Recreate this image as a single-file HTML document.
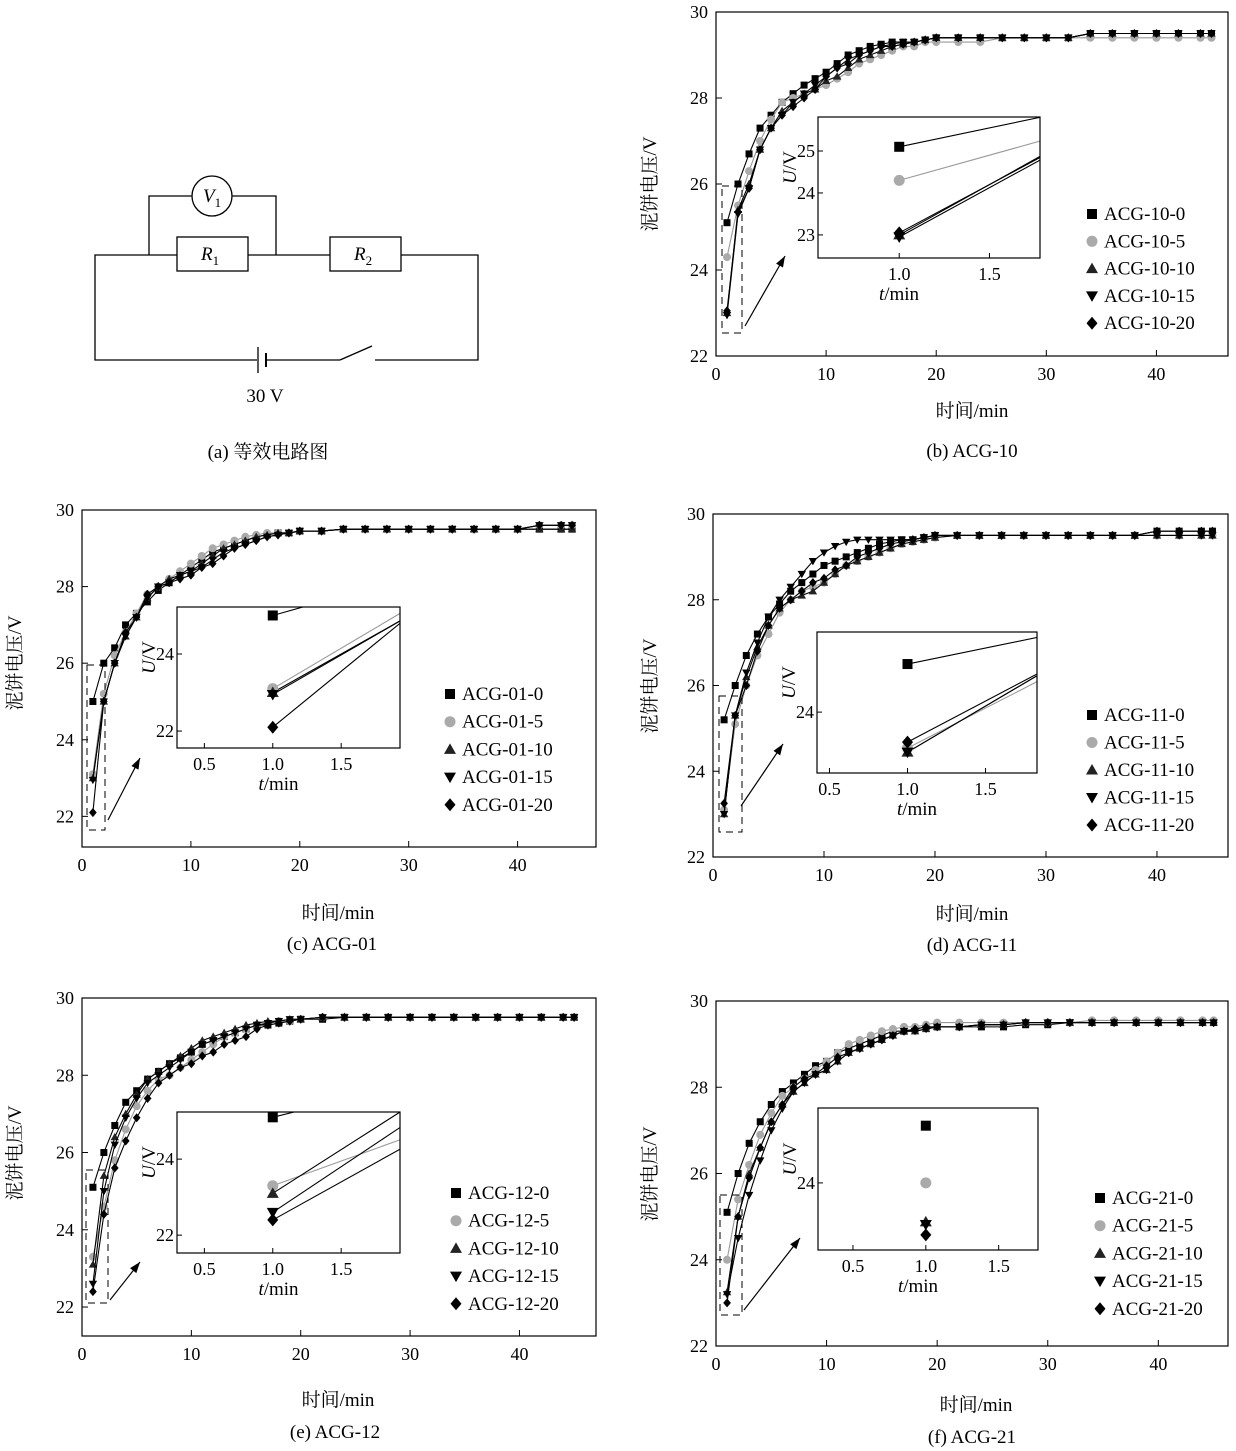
<!DOCTYPE html>
<html><head><meta charset="utf-8">
<style>
html,body{margin:0;padding:0;background:#fff;}
svg{display:block;font-family:"Liberation Serif","Noto Serif CJK SC","Noto Sans CJK SC",serif;}
</style></head>
<body>
<svg id="fig" width="1236" height="1451" viewBox="0 0 1236 1451" xmlns="http://www.w3.org/2000/svg">
<g fill="none" stroke="#000" stroke-width="1.3">
  <path d="M177 255 H95 V360 H257 M266 360 H340 M375 360 H478 V255 H401 M248 255 H330"/>
  <line x1="340" y1="360" x2="372" y2="346"/>
  <line x1="258" y1="347" x2="258" y2="373"/>
  <line x1="266" y1="353" x2="266" y2="367" stroke-width="2"/>
  <rect x="177" y="237" width="71" height="34"/>
  <rect x="330" y="237" width="71" height="34"/>
  <path d="M149 255 V196 H192 M232 196 H276 V255"/>
  <circle cx="212" cy="196" r="20"/>
</g>
<g font-size="19" fill="#000">
  <text x="203" y="202" font-style="italic">V<tspan font-style="normal" font-size="13" dy="5">1</tspan></text>
  <text x="201" y="260" font-style="italic">R<tspan font-style="normal" font-size="13" dy="5">1</tspan></text>
  <text x="354" y="260" font-style="italic">R<tspan font-style="normal" font-size="13" dy="5">2</tspan></text>
  <text x="265" y="402" text-anchor="middle">30 V</text>
  <text x="268" y="458" text-anchor="middle">(a)  等效电路图</text>
</g>
</svg>
<script>
const times=[1,2,3,4,5,6,7,8,9,10,11,12,13,14,15,16,17,18,19,20,22,24,26,28,30,32,34,36,38,40,42,44,45];
const b0=[25.1,26.0,26.7,27.3,27.6,27.9,28.1,28.3,28.45,28.6,28.8,29.0,29.1,29.2,29.25,29.3,29.3,29.3,29.35,29.4,29.4,29.4,29.4,29.4,29.4,29.4,29.5,29.5,29.5,29.5,29.5,29.5,29.5];
const b1=[24.3,25.5,26.3,27.0,27.5,27.9,28.0,28.1,28.2,28.3,28.45,28.6,28.8,28.9,29.0,29.1,29.2,29.2,29.3,29.3,29.3,29.3,29.4,29.4,29.4,29.4,29.4,29.4,29.4,29.4,29.4,29.4,29.4];
const b2=[23.0,25.4,26.0,26.8,27.3,27.7,27.9,28.1,28.2,28.4,28.5,28.7,28.9,29.0,29.1,29.2,29.25,29.3,29.35,29.4,29.4,29.4,29.4,29.4,29.4,29.4,29.5,29.5,29.5,29.5,29.5,29.5,29.5];
const b3=[22.95,25.3,25.9,26.8,27.3,27.6,27.9,28.1,28.3,28.5,28.7,28.9,29.0,29.1,29.2,29.25,29.3,29.3,29.35,29.4,29.4,29.4,29.4,29.4,29.4,29.4,29.5,29.5,29.5,29.5,29.5,29.5,29.5];
const b4=[23.05,25.35,25.9,26.8,27.3,27.6,27.8,28.0,28.2,28.5,28.7,28.8,29.0,29.1,29.2,29.2,29.25,29.3,29.35,29.4,29.4,29.4,29.4,29.4,29.4,29.4,29.5,29.5,29.5,29.5,29.5,29.5,29.5];
const c0=[25.0,26.0,26.4,27.0,27.3,27.6,27.9,28.1,28.3,28.5,28.7,28.9,29.0,29.1,29.2,29.3,29.35,29.4,29.4,29.45,29.45,29.5,29.5,29.5,29.5,29.5,29.5,29.5,29.5,29.5,29.5,29.5,29.5];
const c1=[23.1,25.2,26.2,26.8,27.3,27.8,28.0,28.2,28.4,28.6,28.8,29.0,29.1,29.2,29.3,29.35,29.4,29.4,29.4,29.45,29.45,29.5,29.5,29.5,29.5,29.5,29.5,29.5,29.5,29.5,29.6,29.6,29.6];
const c2=[23.0,25.0,26.0,26.7,27.2,27.7,28.0,28.2,28.3,28.4,28.6,28.8,29.0,29.1,29.2,29.3,29.35,29.4,29.4,29.45,29.45,29.5,29.5,29.5,29.5,29.5,29.5,29.5,29.5,29.5,29.5,29.5,29.5];
const c3=[22.95,25.0,26.0,26.7,27.2,27.7,28.0,28.1,28.3,28.4,28.5,28.7,28.9,29.0,29.1,29.2,29.3,29.35,29.4,29.45,29.45,29.5,29.5,29.5,29.5,29.5,29.5,29.5,29.5,29.5,29.6,29.6,29.6];
const c4=[22.1,25.0,26.0,26.8,27.2,27.8,28.0,28.1,28.2,28.3,28.5,28.6,28.8,29.0,29.1,29.2,29.3,29.35,29.4,29.45,29.45,29.5,29.5,29.5,29.5,29.5,29.5,29.5,29.5,29.5,29.6,29.6,29.6];
const d0=[25.2,26.0,26.7,27.2,27.6,27.9,28.2,28.4,28.6,28.8,28.9,29.0,29.1,29.2,29.3,29.35,29.4,29.4,29.45,29.5,29.5,29.5,29.5,29.5,29.5,29.5,29.5,29.5,29.5,29.6,29.6,29.6,29.6];
const d1=[23.1,25.1,26.0,26.7,27.2,27.7,28.0,28.2,28.3,28.4,28.6,28.8,28.9,29.0,29.1,29.2,29.3,29.35,29.4,29.45,29.5,29.5,29.5,29.5,29.5,29.5,29.5,29.5,29.5,29.5,29.5,29.5,29.5];
const d2=[23.0,25.3,26.2,26.9,27.4,27.8,28.0,28.1,28.2,28.4,28.6,28.8,28.9,29.0,29.1,29.2,29.3,29.35,29.4,29.45,29.5,29.5,29.5,29.5,29.5,29.5,29.5,29.5,29.5,29.5,29.5,29.5,29.5];
const d3=[23.0,25.3,26.3,27.0,27.6,28.0,28.3,28.6,28.9,29.1,29.25,29.35,29.4,29.4,29.4,29.4,29.4,29.4,29.45,29.5,29.5,29.5,29.5,29.5,29.5,29.5,29.5,29.5,29.5,29.5,29.5,29.5,29.5];
const d4=[23.25,25.3,26.0,26.8,27.4,27.8,28.0,28.2,28.4,28.5,28.7,28.8,29.0,29.1,29.2,29.3,29.35,29.4,29.45,29.5,29.5,29.5,29.5,29.5,29.5,29.5,29.5,29.5,29.5,29.6,29.6,29.6,29.6];
const e0=[25.1,26.0,26.7,27.3,27.6,27.9,28.1,28.3,28.45,28.6,28.8,28.9,29.0,29.1,29.2,29.3,29.3,29.35,29.4,29.45,29.45,29.5,29.5,29.5,29.5,29.5,29.5,29.5,29.5,29.5,29.5,29.5,29.5];
const e1=[23.3,24.6,25.8,26.6,27.2,27.6,27.9,28.0,28.2,28.4,28.6,28.8,29.0,29.1,29.2,29.3,29.35,29.4,29.4,29.45,29.5,29.5,29.5,29.5,29.5,29.5,29.5,29.5,29.5,29.5,29.5,29.5,29.5];
const e2=[23.1,25.4,26.4,27.0,27.5,27.9,28.1,28.3,28.5,28.7,28.9,29.0,29.1,29.2,29.3,29.35,29.4,29.4,29.45,29.45,29.5,29.5,29.5,29.5,29.5,29.5,29.5,29.5,29.5,29.5,29.5,29.5,29.5];
const e3=[22.6,25.0,26.2,26.9,27.4,27.8,28.0,28.2,28.4,28.6,28.8,28.9,29.0,29.1,29.2,29.3,29.35,29.4,29.45,29.45,29.5,29.5,29.5,29.5,29.5,29.5,29.5,29.5,29.5,29.5,29.5,29.5,29.5];
const e4=[22.4,24.4,25.6,26.3,26.9,27.4,27.8,28.0,28.2,28.3,28.5,28.6,28.8,28.9,29.0,29.2,29.3,29.35,29.4,29.45,29.5,29.5,29.5,29.5,29.5,29.5,29.5,29.5,29.5,29.5,29.5,29.5,29.5];
const f0=[25.1,26.0,26.7,27.2,27.6,27.9,28.1,28.3,28.5,28.6,28.8,28.9,29.0,29.1,29.2,29.3,29.3,29.35,29.4,29.4,29.4,29.4,29.4,29.45,29.45,29.5,29.5,29.5,29.5,29.5,29.5,29.5,29.5];
const f1=[24.0,25.4,26.2,26.9,27.4,27.8,28.0,28.2,28.4,28.6,28.8,29.0,29.1,29.2,29.3,29.35,29.4,29.4,29.45,29.5,29.5,29.5,29.5,29.5,29.5,29.5,29.55,29.55,29.55,29.55,29.55,29.55,29.55];
const f2=[23.25,25.0,26.0,26.6,27.2,27.6,27.9,28.1,28.3,28.4,28.6,28.8,28.9,29.0,29.1,29.2,29.3,29.3,29.35,29.4,29.4,29.45,29.45,29.5,29.5,29.5,29.5,29.5,29.5,29.5,29.5,29.5,29.5];
const f3=[23.2,24.5,25.5,26.3,27.0,27.5,27.9,28.1,28.3,28.4,28.6,28.8,28.9,29.0,29.1,29.2,29.3,29.3,29.35,29.4,29.4,29.45,29.45,29.5,29.5,29.5,29.5,29.5,29.5,29.5,29.5,29.5,29.5];
const f4=[23.0,25.0,25.9,26.6,27.2,27.6,28.0,28.2,28.3,28.5,28.7,28.8,28.9,29.0,29.1,29.2,29.3,29.35,29.4,29.4,29.4,29.45,29.45,29.5,29.5,29.5,29.5,29.5,29.5,29.5,29.5,29.5,29.5];
const xTicks=[0,10,20,30,40];
const yTicks=[22,24,26,28,30];
const seriesSuffix=["0","5","10","15","20"];
const markerShapes=["square","circle","tri-up","tri-down","diamond"];

const NS="http://www.w3.org/2000/svg";
const svg=document.getElementById('fig');
function mk(tag,attrs,parent){const e=document.createElementNS(NS,tag);for(const k in attrs)e.setAttribute(k,attrs[k]);(parent||svg).appendChild(e);return e;}

const panels=[
 {id:"b",name:"ACG-10",data:[b0,b1,b2,b3,b4],box:[716,12,1228,356],y:[22,30],x:[0,46.5],
  inset:{box:[818,117,1040,258],x:[0.55,1.78],y:[22.45,25.81],xt:[1.0,1.5],yt:[23,24,25],lines:true},
  leg:[1092,214,27.3],cap:[972,457],xt:[972,417],yt:[650,184],dash:[722,186,742,333],arrow:[745,326,785,256]},
 {id:"c",name:"ACG-01",data:[c0,c1,c2,c3,c4],box:[82,510,596,847],y:[21.2,30],x:[0,47.2],
  inset:{box:[177,607,400,748],x:[0.30,1.93],y:[21.56,25.22],xt:[0.5,1.0,1.5],yt:[22,24],lines:true},
  leg:[450,694,27.7],cap:[332,950],xt:[338,919],yt:[15,663],dash:[87,665,105,830],arrow:[108,820,140,758]},
 {id:"d",name:"ACG-11",data:[d0,d1,d2,d3,d4],box:[713,514,1228,857],y:[22,30],x:[0,46.4],
  inset:{box:[817,632,1037,773],x:[0.42,1.83],y:[22.48,26.0],xt:[0.5,1.0,1.5],yt:[24],lines:true},
  leg:[1092,715,27.5],cap:[972,951],xt:[972,920],yt:[650,686],dash:[719,696,742,832],arrow:[741,806,783,744]},
 {id:"e",name:"ACG-12",data:[e0,e1,e2,e3,e4],box:[82,998,596,1336],y:[21.25,30],x:[0,47],
  inset:{box:[177,1112,400,1253],x:[0.30,1.93],y:[21.53,25.24],xt:[0.5,1.0,1.5],yt:[22,24],lines:true},
  leg:[456,1193,27.7],cap:[335,1438],xt:[338,1406],yt:[15,1153],dash:[86,1170,108,1303],arrow:[110,1300,140,1262]},
 {id:"f",name:"ACG-21",data:[f0,f1,f2,f3,f4],box:[716,1001,1228,1346],y:[22,30],x:[0,46.3],
  inset:{box:[818,1108,1038,1250],x:[0.26,1.77],y:[22.71,25.44],xt:[0.5,1.0,1.5],yt:[24],lines:false},
  leg:[1100,1198,27.7],cap:[972,1443],xt:[976,1411],yt:[650,1174],dash:[720,1195,742,1315],arrow:[744,1310,800,1238]}
];

function marker(g,shape,cx,cy,s,color){
  let el;
  if(shape==="square") el=mk('rect',{x:cx-s/2,y:cy-s/2,width:s,height:s,fill:color},g);
  else if(shape==="circle") el=mk('circle',{cx:cx,cy:cy,r:s/2+0.5,fill:color},g);
  else if(shape==="tri-up") el=mk('polygon',{points:`${cx},${cy-s*0.6} ${cx-s*0.6},${cy+s*0.45} ${cx+s*0.6},${cy+s*0.45}`,fill:color},g);
  else if(shape==="tri-down") el=mk('polygon',{points:`${cx},${cy+s*0.6} ${cx-s*0.6},${cy-s*0.45} ${cx+s*0.6},${cy-s*0.45}`,fill:color},g);
  else el=mk('polygon',{points:`${cx},${cy-s*0.65} ${cx+s*0.55},${cy} ${cx},${cy+s*0.65} ${cx-s*0.55},${cy}`,fill:color},g);
  return el;
}
const colors=["#000","#aaa","#222","#000","#000"];
const lineColors=["#000","#999","#000","#000","#000"];

panels.forEach(p=>{
  const [x0,y0,x1,y1]=p.box;
  const sx=v=>x0+(v-p.x[0])/(p.x[1]-p.x[0])*(x1-x0);
  const sy=v=>y1-(v-p.y[0])/(p.y[1]-p.y[0])*(y1-y0);
  const g=mk('g',{});
  
  
  const frame=mk('rect',{x:x0,y:y0,width:x1-x0,height:y1-y0,fill:'none',stroke:'#000','stroke-width':1.2},g);
  
  
  xTicks.forEach(t=>{
    const tk=mk('line',{x1:sx(t),x2:sx(t),y1:y1,y2:y1-6,stroke:'#000','stroke-width':1},g);
    
    
    const tl=mk('text',{x:sx(t),y:y1+24,'text-anchor':'middle','font-size':18},g);
    
    
    tl.textContent=t;
  });
  yTicks.forEach(t=>{
    const tk=mk('line',{x1:x0,x2:x0+6,y1:sy(t),y2:sy(t),stroke:'#000','stroke-width':1},g);
    
    
    const tl=mk('text',{x:x0-8,y:sy(t)+6,'text-anchor':'end','font-size':18},g);
    
    
    tl.textContent=t;
  });
  const xt=mk('text',{x:p.xt[0],y:p.xt[1],'text-anchor':'middle','font-size':19},g);
  
  
  xt.textContent='时间/min';
  const yt=mk('text',{x:p.yt[0],y:p.yt[1],'text-anchor':'middle','font-size':19,transform:`rotate(-90 ${p.yt[0]} ${p.yt[1]})`,dy:6},g);
  
  
  yt.textContent='泥饼电压/V';
  const cap=mk('text',{x:p.cap[0],y:p.cap[1],'text-anchor':'middle','font-size':19},g);
  
  
  cap.textContent=`(${p.id}) ${p.name}`;
  p.data.forEach((arr,si)=>{
    const sg=mk('g',{},g);
    
    
    const pts=arr.map((v,i)=>sx(times[i])+','+sy(v)).join(' ');
    const pl=mk('polyline',{points:pts,fill:'none',stroke:lineColors[si],'stroke-width':1.1},sg);
    
    
    arr.forEach((v,i)=>{
      const m=marker(sg,markerShapes[si],sx(times[i]),sy(v),7,colors[si]);
      
      
    });
  });
  const [dx0,dy0,dx1,dy1]=p.dash;
  const db=mk('rect',{x:dx0,y:dy0,width:dx1-dx0,height:dy1-dy0,fill:'none',stroke:'#000','stroke-width':1,'stroke-dasharray':'7,5'},g);
  
  
  const [ax0,ay0,ax1,ay1]=p.arrow;
  const ar=mk('line',{x1:ax0,y1:ay0,x2:ax1,y2:ay1,stroke:'#000','stroke-width':1.2},g);
  
  
  const ang=Math.atan2(ay1-ay0,ax1-ax0),L=11,W=4;
  const hx=ax1-L*Math.cos(ang),hy=ay1-L*Math.sin(ang);
  const ah=mk('polygon',{points:`${ax1},${ay1} ${hx+W*Math.sin(ang)},${hy-W*Math.cos(ang)} ${hx-W*Math.sin(ang)},${hy+W*Math.cos(ang)}`,fill:'#000'},g);
  
  
  const I=p.inset;const [ix0,iy0,ix1,iy1]=I.box;
  const isx=v=>ix0+(v-I.x[0])/(I.x[1]-I.x[0])*(ix1-ix0);
  const isy=v=>iy1-(v-I.y[0])/(I.y[1]-I.y[0])*(iy1-iy0);
  const ig=mk('g',{},g);
  
  
  const ibg=mk('rect',{x:ix0,y:iy0,width:ix1-ix0,height:iy1-iy0,fill:'#fff',stroke:'none'},ig);
  
  
  const cp=mk('clipPath',{id:'clip'+p.id},ig);
  mk('rect',{x:ix0,y:iy0,width:ix1-ix0,height:iy1-iy0},cp);
  const cg=mk('g',{'clip-path':`url(#clip${p.id})`},ig);
  p.data.forEach((arr,si)=>{
    if(I.lines){
      const ln=mk('line',{x1:isx(times[0]),y1:isy(arr[0]),x2:isx(times[1]),y2:isy(arr[1]),stroke:lineColors[si],'stroke-width':1.1},cg);
      
      
    }
  });
  p.data.forEach((arr,si)=>{
    const m=marker(cg,markerShapes[si],isx(times[0]),isy(arr[0]),10,colors[si]);
    
    
  });
  const ifr=mk('rect',{x:ix0,y:iy0,width:ix1-ix0,height:iy1-iy0,fill:'none',stroke:'#000','stroke-width':1.2},ig);
  
  
  I.xt.forEach(t=>{
    const tk=mk('line',{x1:isx(t),x2:isx(t),y1:iy1,y2:iy1-5,stroke:'#000'},ig);
    
    
    const tl=mk('text',{x:isx(t),y:iy1+22,'text-anchor':'middle','font-size':18},ig);
    
    
    tl.textContent=t.toFixed(1);
  });
  I.yt.forEach(t=>{
    const tk=mk('line',{x1:ix0,x2:ix0+5,y1:isy(t),y2:isy(t),stroke:'#000'},ig);
    
    
    const tl=mk('text',{x:ix0-3,y:isy(t)+6,'text-anchor':'end','font-size':18},ig);
    
    
    tl.textContent=t;
  });
  const itx=(ix0+ix1)/2-30;
  const ixt=mk('text',{x:itx+((isx(1.0)-ix0)>90?20:0),y:iy1+42,'text-anchor':'middle','font-size':19},ig);
  
  
  ixt.innerHTML='<tspan font-style="italic">t</tspan>/min';
  const iyx=ix0-28,iyy=(iy0+iy1)/2-20;
  const iyt=mk('text',{x:iyx,y:iyy,'text-anchor':'middle','font-size':19,transform:`rotate(-90 ${iyx} ${iyy})`,dy:6},ig);
  
  
  iyt.innerHTML='<tspan font-style="italic">U</tspan>/V';
  const [lx,ly,ld]=p.leg;
  const lg=mk('g',{},g);
  
  
  seriesSuffix.forEach((s,si)=>{
    const yy=ly+si*ld;
    const m=marker(lg,markerShapes[si],lx,yy,10,colors[si]);
    
    
    const t=mk('text',{x:lx+12,y:yy+6,'font-size':19},lg);
    
    
    t.textContent=p.name+'-'+s;
  });
});
</script>
</body></html>
